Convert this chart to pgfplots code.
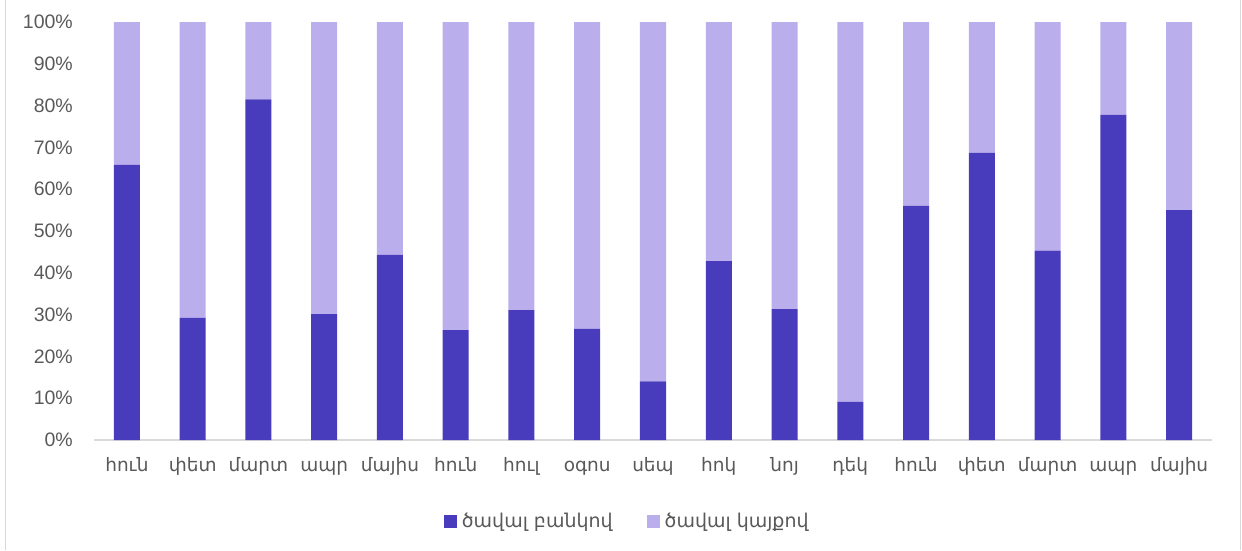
\documentclass[border=0pt]{standalone}
\usepackage{pgfplots}
\pgfplotsset{compat=1.18}
\usepackage{fontspec}
\setmainfont{Liberation Sans}
\newfontfamily\armfont{DejaVu Sans}
\definecolor{cdark}{HTML}{483BBC}
\definecolor{clight}{HTML}{BBAEEC}
\definecolor{ctext}{HTML}{595959}
\definecolor{cline}{HTML}{D9D9D9}
\pgfplotstableread{
x bank site
0 65.8 34.2
1 29.2 70.8
2 81.5 18.5
3 30.1 69.9
4 44.3 55.7
5 26.3 73.7
6 31.1 68.9
7 26.6 73.4
8 14.0 86.0
9 42.8 57.2
10 31.3 68.7
11 9.1 90.9
12 56.0 44.0
13 68.7 31.3
14 45.3 54.7
15 77.8 22.2
16 55.0 45.0
}\datatable
\begin{document}
\begin{tikzpicture}
\path[use as bounding box] (0pt,0pt) rectangle (1242pt,550pt);
\draw[cline, line width=1.5pt] (5.5pt,0pt) -- (5.5pt,550pt);
\draw[cline, line width=1.5pt] (1240.5pt,0pt) -- (1240.5pt,550pt);
\begin{axis}[
  at={(94pt,110pt)}, anchor=south west,
  scale only axis, width=1118pt, height=418pt,
  ybar stacked, bar width=26pt,
  xmin=-0.5, xmax=16.5, ymin=0, ymax=100,
  axis lines*=left,
  x axis line style={cline, line width=1.5pt},
  y axis line style={draw=none},
  major tick length=0pt,
  xtick=data,
  xticklabels={հուն,փետ,մարտ,ապր,մայիս,հուն,հուլ,օգոս,սեպ,հոկ,նոյ,դեկ,հուն,փետ,մարտ,ապր,մայիս},
  xticklabel style={font=\armfont\fontsize{18.5}{22}\selectfont, text=ctext, anchor=base, inner sep=0pt, yshift=-31pt},
  ytick={0,10,...,100},
  yticklabel={\pgfmathprintnumber{\tick}\%},
  /pgf/number format/assume math mode=true,
  yticklabel style={font=\fontsize{19.5}{23}\selectfont, text=ctext, anchor=east, inner sep=0pt, xshift=-21pt},
  legend style={at={(0.477,-0.195)}, anchor=center, draw=none, fill=none,
    font=\armfont\fontsize{19}{22}\selectfont, text=ctext,
    /tikz/every even column/.append style={column sep=32pt}},
  legend columns=2,
  legend image code/.code={\fill[#1,draw=none] (0pt,-6.5pt) rectangle (13pt,6.5pt);},
]
\addplot[fill=cdark, draw=none] table[x=x,y=bank]{\datatable};
\addplot[fill=clight, draw=none] table[x=x,y=site]{\datatable};
\legend{\hspace{3pt}ծավալ բանկով, \hspace{3pt}ծավալ կայքով}
\end{axis}
\end{tikzpicture}
\end{document}
